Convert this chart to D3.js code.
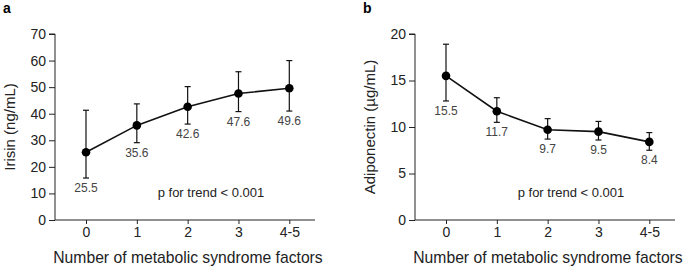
<!DOCTYPE html>
<html lang="en">
<meta charset="utf-8">
<script src="https://d3js.org/d3.v7.min.js"></script>
<head>
    <style type="text/css">
        body { margin: 0; background: white; }
        text { font-family: Arial, "Liberation Sans", sans-serif; }
        .tick text { font-size: 14px; fill: #222; }
        .domain, .tick line { stroke: #222; stroke-width: 1; }
    </style>
</head>
<body>
    <div id="my_dataviz"></div>
    <script>
        // categories
        const factors = ["0", "1", "2", "3", "4-5"];

        // panel a: irisin
        const irisinMean = [25.5, 35.6, 42.6, 47.6, 49.6];
        const irisinUpper = [41.3, 43.7, 50.2, 55.8, 60.0];
        const irisinLower = [15.8, 29.1, 36.1, 40.8, 41.0];
        const irisinTicks = [0, 10, 20, 30, 40, 50, 60, 70];

        // panel b: adiponectin
        const adipoMean = [15.5, 11.7, 9.7, 9.5, 8.4];
        const adipoUpper = [18.9, 13.15, 10.9, 10.6, 9.4];
        const adipoLower = [12.8, 10.5, 8.7, 8.6, 7.5];
        const adipoTicks = [0, 5, 10, 15, 20];

        const svg = d3.select("#my_dataviz")
            .append("svg")
            .attr("width", 685)
            .attr("height", 268);

        function panel(offsetX, letter, yLabel, yMax, ticks, mean, upper, lower) {
            const g = svg.append("g").attr("transform", `translate(${offsetX},0)`);

            const x = d3.scalePoint()
                .domain(factors)
                .range([86, 289.3]);
            const y = d3.scaleLinear()
                .domain([0, yMax])
                .range([220, 34]);

            // axes
            g.append("g")
                .attr("transform", "translate(55,0)")
                .call(d3.axisLeft(y).tickValues(ticks).tickSize(6).tickPadding(3))
                .call(a => a.select(".domain").attr("d", "M-6,34H0V220"));

            g.append("g")
                .attr("transform", "translate(0,220)")
                .call(d3.axisBottom(x).tickSize(4).tickPadding(3))
                .call(a => a.select(".domain").attr("d", "M55,0H315"));

            g.selectAll(".tick text").style("font-size", "14px");

            // letter
            g.append("text")
                .attr("x", 3)
                .attr("y", 13)
                .style("font-weight", "bold")
                .style("font-size", "14px")
                .text(letter);

            // y title
            g.append("text")
                .attr("transform", `translate(15,127)rotate(-90)`)
                .attr("text-anchor", "middle")
                .style("font-size", "15px")
                .attr("fill", "#222")
                .text(yLabel);

            // x title
            g.append("text")
                .attr("x", 188)
                .attr("y", 263)
                .attr("text-anchor", "middle")
                .style("font-size", "15.7px")
                .attr("fill", "#222")
                .text("Number of metabolic syndrome factors");

            // error bars
            const rows = factors.map((f, i) => ({ f, m: mean[i], hi: upper[i], lo: lower[i] }));
            const eb = g.selectAll(".eb").data(rows).join("g").attr("class", "eb");
            eb.append("line")
                .attr("x1", d => x(d.f)).attr("x2", d => x(d.f))
                .attr("y1", d => y(d.hi)).attr("y2", d => y(d.lo))
                .attr("stroke", "#111").attr("stroke-width", 1.2);
            eb.append("line")
                .attr("x1", d => x(d.f) - 3).attr("x2", d => x(d.f) + 3)
                .attr("y1", d => y(d.hi)).attr("y2", d => y(d.hi))
                .attr("stroke", "#111").attr("stroke-width", 1.2);
            eb.append("line")
                .attr("x1", d => x(d.f) - 3).attr("x2", d => x(d.f) + 3)
                .attr("y1", d => y(d.lo)).attr("y2", d => y(d.lo))
                .attr("stroke", "#111").attr("stroke-width", 1.2);

            // line
            g.append("path")
                .datum(rows)
                .attr("fill", "none")
                .attr("stroke", "#111")
                .attr("stroke-width", 1.6)
                .attr("d", d3.line().x(d => x(d.f)).y(d => y(d.m)));

            // dots
            g.selectAll(".dot").data(rows).join("circle")
                .attr("cx", d => x(d.f))
                .attr("cy", d => y(d.m))
                .attr("r", 4.3)
                .attr("fill", "#000");

            // value labels
            g.selectAll(".val").data(rows).join("text")
                .attr("x", d => x(d.f))
                .attr("y", d => y(d.lo) + 14)
                .attr("text-anchor", "middle")
                .style("font-size", "12px")
                .attr("fill", "#444")
                .text(d => d.m.toFixed(1));

            // p for trend
            g.append("text")
                .attr("x", 211)
                .attr("y", 197)
                .attr("text-anchor", "middle")
                .style("font-size", "13px")
                .attr("fill", "#222")
                .text("p for trend < 0.001");
        }

        panel(0, "a", "Irisin (ng/mL)", 70, irisinTicks, irisinMean, irisinUpper, irisinLower);
        panel(360, "b", "Adiponectin (µg/mL)", 20, adipoTicks, adipoMean, adipoUpper, adipoLower);
    </script>
</body>
</html>
